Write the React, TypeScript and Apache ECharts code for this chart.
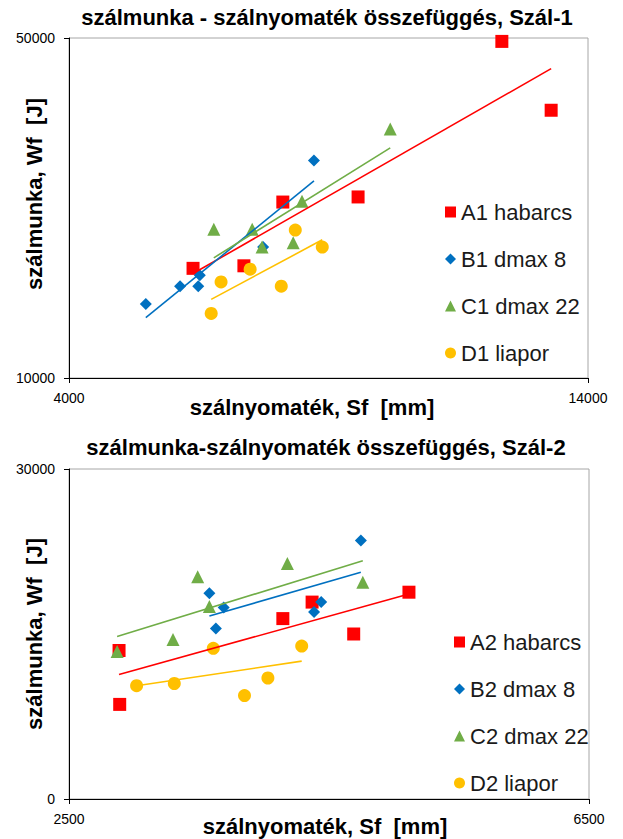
import React, { useEffect, useRef } from "react";
import * as echarts from "echarts";

const FONT = '"Liberation Sans", Arial, sans-serif';

// Szál-1
const a1Sf = [6390, 7370, 8120, 9570, 12340, 13290];
const a1Wf = [22900, 23200, 30700, 31300, 49600, 41500];
const b1Sf = [5480, 6140, 6490, 6520, 7740, 8720];
const b1Wf = [18700, 20800, 20800, 22100, 25400, 35600];
const c1Sf = [6790, 7530, 7720, 8320, 8490, 10190];
const c1Wf = [27500, 27500, 25400, 25900, 30800, 39300];
const d1Sf = [6740, 6930, 7490, 8090, 8360, 8880];
const d1Wf = [17600, 21300, 22800, 20800, 27400, 25400];

// Szál-2
const a2Sf = [2885, 2890, 4145, 4370, 4690, 5115];
const a2Wf = [13500, 8600, 16400, 17900, 15000, 18800];
const b2Sf = [3580, 3630, 3690, 4385, 4440, 4745];
const b2Wf = [18700, 15500, 17400, 17000, 17900, 23500];
const c2Sf = [2870, 3300, 3490, 3580, 4180, 4760];
const c2Wf = [13400, 14500, 20200, 17500, 21400, 19700];
const d2Sf = [3020, 3310, 3610, 3850, 4030, 4290];
const d2Wf = [10300, 10500, 13700, 9400, 11000, 13900];

const names1 = ["A1 habarcs", "B1 dmax 8", "C1 dmax 22", "D1 liapor"];
const names2 = ["A2 habarcs", "B2 dmax 8", "C2 dmax 22", "D2 liapor"];
const title1 = "szálmunka - szálnyomaték összefüggés, Szál-1";
const title2 = "szálmunka-szálnyomaték összefüggés, Szál-2";
const xName = "szálnyomaték, Sf  [mm]";
const yName = "szálmunka, Wf  [J]";
const xRange1 = [4000, 14000];
const yRange1 = [10000, 50000];
const xRange2 = [2500, 6500];
const yRange2 = [0, 30000];

const colors = ["#FF0000", "#0070C0", "#70AD47", "#FFC000"];
const symbols = ["rect", "diamond", "triangle", "circle"];
const sizes: any[] = [13, 12, 13, 13];

function pairs(xs: number[], ys: number[]) {
  return xs.map((x, i) => [x, ys[i]]);
}

function trend(xs: number[], ys: number[]) {
  const n = xs.length;
  const mx = xs.reduce((s, v) => s + v, 0) / n;
  const my = ys.reduce((s, v) => s + v, 0) / n;
  let sxy = 0;
  let sxx = 0;
  for (let i = 0; i < n; i++) {
    sxy += (xs[i] - mx) * (ys[i] - my);
    sxx += (xs[i] - mx) * (xs[i] - mx);
  }
  const b = sxy / sxx;
  const a = my - b * mx;
  const x0 = Math.min(...xs);
  const x1 = Math.max(...xs);
  return [
    [x0, a + b * x0],
    [x1, a + b * x1],
  ];
}

const plainNum = (v: number) => String(v);
const LABEL_STYLE = { fontFamily: FONT, fontSize: 14, color: "#000", showMinLabel: true, showMaxLabel: true, formatter: plainNum };

function xAxisCfg(gridIndex: number, r: number[]) {
  return {
    type: "value",
    gridIndex,
    min: r[0],
    max: r[1],
    interval: r[1] - r[0],
    axisLine: { show: true, onZero: false, lineStyle: { color: "#000", width: 1 } },
    axisTick: { show: true, length: 5, lineStyle: { color: "#000" } },
    axisLabel: { ...LABEL_STYLE, margin: 13 },
    splitLine: { show: false },
  };
}

function yAxisCfg(gridIndex: number, r: number[]) {
  return {
    type: "value",
    gridIndex,
    min: r[0],
    max: r[1],
    interval: r[1] - r[0],
    axisLine: { show: true, onZero: false, lineStyle: { color: "#000", width: 1 } },
    axisTick: { show: true, length: 5, lineStyle: { color: "#000" } },
    axisLabel: { ...LABEL_STYLE, margin: 14 },
    splitLine: { show: false },
  };
}

function buildSeries(idx: number, names: string[], xs: number[][], ys: number[][]) {
  const out: any[] = [];
  names.forEach((name, i) => {
    out.push({
      type: "line",
      name: name + " trend",
      xAxisIndex: idx,
      yAxisIndex: idx,
      data: trend(xs[i], ys[i]),
      showSymbol: false,
      symbol: "none",
      lineStyle: { color: colors[i], width: 1.6 },
      itemStyle: { color: colors[i] },
      silent: true,
      z: 3,
    });
  });
  names.forEach((name, i) => {
    out.push({
      type: "scatter",
      name,
      xAxisIndex: idx,
      yAxisIndex: idx,
      data: pairs(xs[i], ys[i]),
      symbol: symbols[i],
      symbolSize: sizes[i],
      itemStyle: { color: colors[i], opacity: 1 },
      z: 2,
    });
  });
  return out;
}

function legendCfg(names: string[], left: number, top: number) {
  return {
    orient: "vertical",
    left,
    top,
    itemWidth: 11,
    itemHeight: 11,
    itemGap: 23,
    selectedMode: false,
    textStyle: { fontFamily: FONT, fontSize: 22, color: "#1a1a1a", lineHeight: 24 },
    data: names.map((n, i) => ({ name: n, icon: symbols[i], itemStyle: { color: colors[i] } })),
  };
}

const gridBase = {
  show: true,
  borderColor: "#a6a6a6",
  borderWidth: 1,
  backgroundColor: "transparent",
  containLabel: false,
  outerBoundsMode: "none",
};

const BOLD = {
  fontFamily: FONT,
  fontSize: 22,
  fontWeight: "bold",
  fill: "#000",
  align: "center",
  verticalAlign: "middle",
};

function boldText(text: string, x: number, y: number, rotate = false) {
  return {
    type: "text",
    x,
    y,
    rotation: rotate ? Math.PI / 2 : 0,
    style: { ...BOLD, text },
  };
}

export default function App() {
  const ref = useRef<HTMLDivElement>(null);
  useEffect(() => {
    const chart = echarts.init(ref.current!, null, { renderer: "svg" });
    const option: any = {
      animation: false,
      backgroundColor: "#fff",
      graphic: [
        boldText(title1, 327, 17),
        boldText(title2, 326, 447),
        boldText(xName, 312, 407),
        boldText(xName, 325, 826),
        boldText(yName, 34, 194, true),
        boldText(yName, 34, 634, true),
      ],
      grid: [
        { ...gridBase, left: 69, top: 38, width: 519, height: 340 },
        { ...gridBase, left: 69, top: 469, width: 520, height: 330 },
      ],
      xAxis: [xAxisCfg(0, xRange1), xAxisCfg(1, xRange2)],
      yAxis: [yAxisCfg(0, yRange1), yAxisCfg(1, yRange2)],
      legend: [legendCfg(names1, 440, 195), legendCfg(names2, 449, 625)],
      series: [
        ...buildSeries(0, names1, [a1Sf, b1Sf, c1Sf, d1Sf], [a1Wf, b1Wf, c1Wf, d1Wf]),
        ...buildSeries(1, names2, [a2Sf, b2Sf, c2Sf, d2Sf], [a2Wf, b2Wf, c2Wf, d2Wf]),
      ],
    };
    chart.setOption(option);
    return () => chart.dispose();
  }, []);
  return (
    <div
      ref={ref}
      style={{ position: "fixed", left: 0, top: 0, width: 623, height: 839, background: "#fff" }}
    />
  );
}
